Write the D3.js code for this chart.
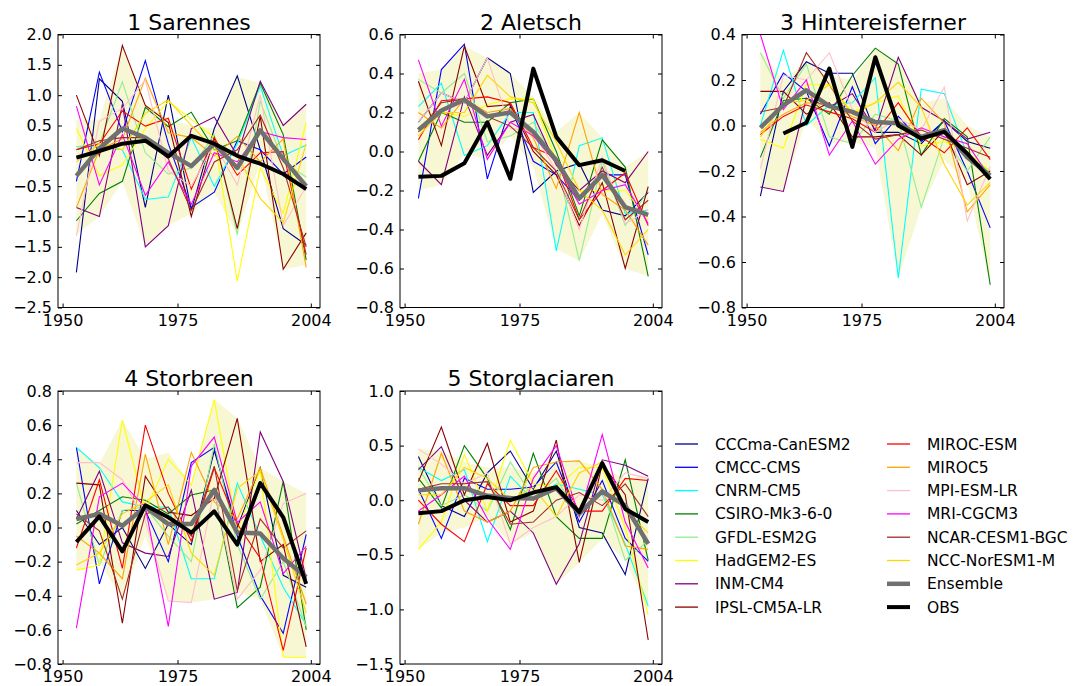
<!DOCTYPE html>
<html>
<head>
<meta charset="utf-8">
<script src="https://cdn.jsdelivr.net/npm/d3@7"></script>
<style>
  body { margin: 0; background: #fff; }
  svg { font-family: "DejaVu Sans", sans-serif; }
</style>
</head>
<body>
<svg id="chart" width="1084" height="686"></svg>
<script>
// Five-year mean anomalies per glacier: 14 GCMs, their ensemble, the spread band and OBS.

var years = [1953, 1958, 1963, 1968, 1973, 1978, 1983, 1988, 1993, 1998, 2003];
var xTicks = [1950, 1975, 2004];

var modelNames = ["CCCma-CanESM2", "CMCC-CMS", "CNRM-CM5", "CSIRO-Mk3-6-0", "GFDL-ESM2G",
    "HadGEM2-ES", "INM-CM4", "IPSL-CM5A-LR", "MIROC-ESM", "MIROC5", "MPI-ESM-LR",
    "MRI-CGCM3", "NCAR-CESM1-BGC", "NCC-NorESM1-M"];
var modelColors = ["#00008b", "#0000ff", "#00ffff", "#008000", "#90ee90", "#ffff00", "#800080",
    "#8b0000", "#ff0000", "#ffa500", "#ffc0cb", "#ff00ff", "#a52a2a", "#ffd700"];

// 1 Sarennes
var sarennesModels = [
    [-1.92, 1.27, 0.9, -0.85, 1.0, -0.9, 0.45, 1.32, 0.1, -1.2, -1.47],
    [-0.42, 1.38, 0.4, 1.57, 0.2, -0.85, -0.6, 0.25, 0.1, -0.3, -0.02],
    [0.15, 0.15, 0.1, -0.72, -0.68, 0.3, -0.5, 0.2, 1.15, 0.0, 0.18],
    [-1.07, -0.62, -0.42, 0.8, 0.48, 0.72, 0.1, 0.25, 1.2, 0.35, -1.72],
    [0.15, 0.2, 1.22, 0.05, -0.3, -0.2, 0.35, -1.3, 0.9, -0.1, -0.35],
    [0.45, -0.33, -0.15, 0.45, 0.9, 0.6, 0.3, -2.07, -0.2, -0.95, 0.55],
    [-0.85, -1.0, 0.85, -1.5, -1.15, 0.45, 0.64, 0.0, 1.23, 0.5, 0.85],
    [1.0, 0.0, 1.82, 0.83, 0.55, -1.0, 0.3, -1.2, 0.65, -1.87, -1.27],
    [0.1, 0.2, 0.74, 0.49, 0.62, -0.55, 0.3, -0.32, 0.05, 0.07, -1.63],
    [-0.85, 0.1, 0.28, 1.28, 0.38, 0.3, 0.0, 0.32, -0.1, 0.28, -1.84],
    [-1.32, 0.57, 0.78, 1.25, -0.25, -0.5, 0.2, -0.48, 1.0, -1.15, -0.5],
    [0.82, -0.48, 0.35, -0.65, -0.1, -0.8, 0.05, -0.1, 0.4, 0.3, 0.27],
    [0.1, 0.25, 0.3, 0.3, -0.05, -0.9, -0.1, 0.1, 0.67, -0.2, -1.5],
    [-0.1, 0.2, 0.1, 0.7, 0.92, 0.5, 0.1, 0.0, -0.7, -1.1, 0.2]
];
var sarennesEns = [-0.33, 0.12, 0.45, 0.3, 0.05, -0.17, 0.2, -0.2, 0.42, -0.05, -0.5];
var sarennesObs = [-0.03, 0.08, 0.2, 0.25, -0.01, 0.33, 0.2, 0.0, -0.13, -0.3, -0.55];
var sarennesUpper = [0.6, 0.6, 1.82, 0.85, 0.6, 0.5, 0.45, 1.3, 1.2, 0.5, 0.85];
var sarennesLower = [-1.3, -1.0, -0.42, -1.5, -1.15, -0.95, -0.6, -1.3, -0.1, -1.87, -1.8];

// 2 Aletsch
var aletschModels = [
    [0.15, 0.3, 0.25, 0.48, 0.4, -0.21, -0.1, -0.06, -0.3, -0.33, -0.21],
    [-0.24, 0.42, 0.55, -0.14, 0.23, -0.05, -0.12, -0.25, -0.12, -0.12, -0.53],
    [0.23, 0.35, -0.02, 0.03, 0.2, 0.2, -0.51, 0.03, 0.07, -0.32, -0.3],
    [-0.05, 0.2, 0.15, 0.15, 0.25, 0.27, 0.0, -0.33, 0.06, -0.08, -0.64],
    [0.37, 0.3, 0.4, 0.05, 0.08, 0.15, -0.05, -0.56, -0.05, -0.38, -0.2],
    [0.1, 0.2, 0.18, 0.24, 0.27, 0.27, -0.05, -0.2, -0.2, -0.2, -0.35],
    [-0.05, -0.17, 0.28, -0.02, 0.15, 0.19, -0.07, -0.2, -0.1, -0.16, 0.0],
    [0.36, 0.03, 0.54, 0.23, 0.24, 0.0, -0.12, -0.38, -0.16, -0.6, -0.18],
    [0.06, 0.26, 0.27, 0.28, 0.25, 0.02, -0.03, -0.35, -0.2, -0.11, -0.38],
    [0.2, 0.12, 0.27, 0.2, 0.22, 0.07, -0.19, 0.2, -0.22, -0.3, -0.48],
    [0.15, 0.3, 0.25, 0.48, 0.12, 0.1, -0.1, -0.4, -0.03, -0.37, -0.3],
    [0.47, 0.13, 0.37, -0.04, 0.15, 0.08, -0.06, -0.27, -0.2, -0.17, -0.37],
    [0.1, 0.25, 0.27, 0.18, 0.13, 0.02, -0.1, -0.35, -0.08, -0.35, -0.25],
    [0.08, 0.2, 0.2, 0.39, 0.28, 0.25, 0.05, -0.2, -0.3, -0.53, -0.4]
];
var aletschEns = [0.11, 0.21, 0.265, 0.18, 0.2, 0.1, -0.045, -0.24, -0.12, -0.285, -0.325];
var aletschObs = [-0.13, -0.125, -0.06, 0.15, -0.14, 0.425, 0.075, -0.07, -0.045, -0.1, null];
var aletschUpper = [0.4, 0.42, 0.54, 0.48, 0.4, 0.28, 0.1, 0.2, 0.07, -0.08, 0.0];
var aletschLower = [-0.2, -0.17, -0.01, -0.04, 0.08, -0.08, -0.5, -0.56, -0.32, -0.6, -0.64];

// 3 Hintereisferner
var hefModels = [
    [-0.31, 0.15, 0.28, 0.23, 0.23, -0.03, -0.03, -0.08, 0.02, -0.07, -0.1],
    [0.05, 0.23, 0.15, -0.09, 0.17, -0.08, 0.04, -0.07, 0.02, -0.2, -0.45],
    [0.0, 0.33, 0.0, 0.09, 0.1, 0.21, -0.67, 0.16, 0.14, -0.13, -0.2],
    [-0.14, 0.11, 0.12, 0.05, 0.22, 0.34, 0.27, -0.13, 0.03, -0.05, -0.7],
    [0.32, 0.12, 0.27, -0.05, -0.08, 0.05, 0.02, -0.36, -0.05, -0.2, -0.05],
    [-0.06, -0.1, 0.18, 0.18, 0.06, 0.1, 0.13, -0.09, -0.07, -0.12, -0.2],
    [-0.27, -0.29, 0.12, 0.08, 0.14, -0.02, 0.3, 0.08, 0.02, -0.06, -0.03],
    [0.15, 0.15, 0.05, 0.1, -0.05, -0.05, -0.04, -0.13, -0.02, -0.26, -0.2],
    [-0.04, 0.04, 0.09, 0.06, 0.03, -0.03, 0.1, -0.05, -0.12, -0.01, -0.15],
    [-0.03, 0.05, 0.1, 0.09, 0.04, 0.0, -0.11, 0.12, 0.01, -0.38, -0.26],
    [-0.19, 0.22, 0.2, 0.32, 0.07, -0.03, 0.03, -0.02, 0.17, -0.42, -0.18],
    [0.4, 0.07, 0.2, -0.13, 0.02, -0.17, -0.06, -0.01, -0.05, -0.08, -0.23],
    [0.06, 0.08, 0.32, 0.18, 0.02, -0.06, -0.04, -0.02, -0.06, -0.1, -0.14],
    [-0.05, 0.1, 0.11, 0.18, 0.05, 0.1, 0.19, 0.08, -0.17, -0.35, -0.25]
];
var hefEns = [-0.01, 0.09, 0.155, 0.085, 0.06, 0.015, 0.01, -0.05, -0.02, -0.14, -0.22];
var hefObs = [null, -0.035, 0.012, 0.25, -0.094, 0.3, 0.0, -0.057, -0.028, -0.123, -0.236];
var hefUpper = [0.33, 0.2, 0.28, 0.22, 0.2, 0.34, 0.28, 0.1, 0.12, 0.0, -0.05];
var hefLower = [-0.27, -0.29, 0.03, -0.08, -0.07, -0.1, -0.67, -0.36, -0.15, -0.25, -0.7];

// 4 Storbreen
var storbreenModels = [
    [0.1, -0.1, 0.0, -0.24, 0.02, -0.1, 0.45, 0.0, 0.35, -0.28, -0.35],
    [0.47, -0.33, 0.1, 0.1, -0.2, 0.38, 0.47, -0.05, -0.4, -0.62, -0.04],
    [0.47, 0.35, 0.15, 0.12, 0.12, -0.3, -0.3, 0.26, -0.05, -0.35, -0.57],
    [0.02, 0.1, 0.18, 0.16, 0.08, 0.19, 0.22, -0.47, -0.35, 0.27, -0.6],
    [0.26, -0.22, 0.1, 0.12, -0.05, -0.2, 0.49, -0.1, -0.42, -0.2, -0.58],
    [-0.25, -0.22, 0.63, 0.1, 0.4, 0.25, 0.75, -0.02, 0.34, -0.76, -0.76],
    [0.05, 0.33, -0.09, -0.15, -0.17, 0.22, -0.42, -0.38, 0.56, 0.27, -0.3],
    [0.26, 0.25, -0.56, 0.3, 0.09, 0.07, 0.17, 0.64, -0.2, -0.1, -0.7],
    [-0.12, 0.28, -0.24, 0.6, 0.2, -0.08, 0.35, 0.02, -0.18, -0.72, -0.12],
    [-0.05, -0.15, -0.3, 0.43, -0.1, 0.44, 0.15, 0.05, 0.35, -0.05, -0.45],
    [0.38, 0.38, 0.28, 0.04, -0.43, -0.44, 0.22, -0.42, -0.25, 0.14, 0.2],
    [-0.59, 0.18, 0.26, 0.12, -0.58, 0.36, 0.53, 0.03, 0.15, -0.27, -0.11],
    [0.08, -0.02, -0.42, 0.08, 0.12, -0.05, 0.36, -0.37, 0.05, -0.12, -0.02],
    [-0.22, -0.15, 0.08, 0.15, 0.25, -0.15, -0.28, 0.23, 0.33, -0.07, -0.5]
];
var storbreenEns = [0.05, 0.08, 0.01, 0.12, 0.02, 0.02, 0.22, -0.03, -0.035, -0.18, -0.29];
var storbreenObs = [-0.085, 0.065, -0.14, 0.13, 0.06, -0.03, 0.095, -0.1, 0.26, 0.06, -0.33];
var storbreenUpper = [0.47, 0.37, 0.63, 0.4, 0.44, 0.25, 0.75, 0.64, 0.35, 0.27, 0.2];
var storbreenLower = [-0.25, -0.2, -0.42, -0.05, -0.42, -0.44, -0.42, -0.38, -0.42, -0.76, -0.76];

// 5 Storglaciaren
var storglacModels = [
    [0.4, -0.05, -0.15, 0.25, 0.45, 0.1, 0.45, -0.25, -0.3, -0.68, 0.2],
    [0.1, -0.35, 0.2, 0.1, 0.1, 0.12, 0.35, -0.2, 0.18, -0.35, -0.56],
    [0.3, 0.18, 0.28, -0.38, 0.22, 0.0, 0.15, 0.1, 0.05, -0.4, -0.97],
    [0.2, -0.07, 0.5, 0.2, -0.27, 0.43, -0.15, -0.35, -0.35, 0.37, -0.55],
    [0.3, -0.05, 0.05, -0.1, 0.35, 0.02, 0.2, -0.15, 0.1, -0.55, -0.37],
    [-0.45, -0.2, 0.42, -0.1, 0.55, 0.15, 0.12, 0.3, 0.3, -0.25, -1.05],
    [0.28, 0.49, 0.0, -0.2, -0.1, -0.3, -0.77, -0.4, 0.37, 0.32, 0.22],
    [0.17, 0.67, 0.05, 0.52, -0.2, -0.1, 0.55, -0.57, 0.33, 0.05, -1.28],
    [0.0, -0.22, -0.38, 0.15, -0.05, -0.05, 0.27, -0.1, -0.1, 0.2, 0.18],
    [-0.22, 0.43, -0.1, -0.2, -0.1, 0.3, 0.35, 0.36, 0.1, -0.42, -0.45],
    [0.47, 0.33, 0.15, 0.25, -0.4, -0.25, -0.15, 0.05, 0.0, 0.25, 0.2],
    [-0.1, 0.05, 0.22, -0.17, -0.45, 0.2, 0.5, -0.15, 0.6, -0.2, -0.62],
    [0.1, 0.15, 0.15, 0.17, -0.22, -0.2, 0.0, 0.07, -0.05, 0.15, -0.15],
    [0.05, 0.05, 0.3, 0.2, 0.0, 0.12, -0.15, 0.25, 0.35, -0.1, -0.3]
];
var storglacEns = [0.09, 0.11, 0.11, 0.04, 0.02, 0.015, 0.11, -0.12, 0.08, -0.05, -0.4];
var storglacObs = [-0.12, -0.1, 0.0, 0.03, 0.0, 0.07, 0.12, -0.11, 0.34, -0.08, -0.2];
var storglacUpper = [0.47, 0.45, 0.35, 0.3, 0.3, 0.25, 0.36, 0.36, 0.3, 0.2, 0.22];
var storglacLower = [-0.45, -0.3, -0.25, -0.15, -0.4, -0.3, -0.77, -0.57, -0.35, -0.55, -1.0];

// y tick values of each panel
var sarennesTicks = [-2.5, -2.0, -1.5, -1.0, -0.5, 0.0, 0.5, 1.0, 1.5, 2.0];
var aletschTicks = [-0.8, -0.6, -0.4, -0.2, 0.0, 0.2, 0.4, 0.6];
var hefTicks = [-0.8, -0.6, -0.4, -0.2, 0.0, 0.2, 0.4];
var storbreenTicks = [-0.8, -0.6, -0.4, -0.2, 0.0, 0.2, 0.4, 0.6, 0.8];
var storglacTicks = [-1.5, -1.0, -0.5, 0.0, 0.5, 1.0];

var panels = [
    { title: "1 Sarennes", models: sarennesModels, ens: sarennesEns, obs: sarennesObs,
      upper: sarennesUpper, lower: sarennesLower, ticks: sarennesTicks, left: 58, top: 34.5 },
    { title: "2 Aletsch", models: aletschModels, ens: aletschEns, obs: aletschObs,
      upper: aletschUpper, lower: aletschLower, ticks: aletschTicks, left: 400, top: 34.5 },
    { title: "3 Hintereisferner", models: hefModels, ens: hefEns, obs: hefObs,
      upper: hefUpper, lower: hefLower, ticks: hefTicks, left: 742, top: 34.5 },
    { title: "4 Storbreen", models: storbreenModels, ens: storbreenEns, obs: storbreenObs,
      upper: storbreenUpper, lower: storbreenLower, ticks: storbreenTicks, left: 58, top: 391 },
    { title: "5 Storglaciaren", models: storglacModels, ens: storglacEns, obs: storglacObs,
      upper: storglacUpper, lower: storglacLower, ticks: storglacTicks, left: 400, top: 391 }
];

var PLOT_W = 262, PLOT_H = 273;
var TICK_LEN = 4;
var svg = d3.select("#chart");

function fmt(v) {
    return d3.format(".1f")(v).replace("-", "\u2212");
}

function drawPanel(p, idx) {
    var x = d3.scaleLinear().domain([1949, 2006]).range([0, PLOT_W]);
    var ticks = p.ticks;
    var y = d3.scaleLinear().domain([ticks[0], ticks[ticks.length - 1]]).range([PLOT_H, 0]);

    var g = svg.append("g").attr("transform", "translate(" + p.left + "," + p.top + ")");

    g.append("clipPath").attr("id", "clip" + idx)
        .append("rect").attr("width", PLOT_W).attr("height", PLOT_H);
    var plot = g.append("g").attr("clip-path", "url(#clip" + idx + ")");

    // Spread band sits underneath everything else.
    var area = d3.area()
        .x(function (d, i) { return x(years[i]); })
        .y0(function (d, i) { return y(p.lower[i]); })
        .y1(function (d, i) { return y(p.upper[i]); });
    plot.append("path").datum(years)
        .attr("d", area)
        .attr("fill", "#f7f7d3");

    var line = d3.line()
        .defined(function (d) { return d !== null; })
        .x(function (d, i) { return x(years[i]); })
        .y(function (d) { return y(d); });

    p.models.forEach(function (vals, m) {
        plot.append("path").datum(vals)
            .attr("d", line)
            .attr("fill", "none")
            .attr("stroke", modelColors[m])
            .attr("stroke-width", 1.1);
    });

    plot.append("path").datum(p.ens)
        .attr("d", line)
        .attr("fill", "none")
        .attr("stroke", "#707070")
        .attr("stroke-width", 4.5)
        .attr("stroke-linejoin", "round");

    plot.append("path").datum(p.obs)
        .attr("d", line)
        .attr("fill", "none")
        .attr("stroke", "#000")
        .attr("stroke-width", 4)
        .attr("stroke-linejoin", "round");

    // Inward ticks on all four sides, matplotlib classic style.
    g.append("g").attr("transform", "translate(0," + PLOT_H + ")")
        .call(d3.axisBottom(x).tickValues(xTicks).tickFormat(d3.format("d")).tickSizeInner(-TICK_LEN).tickSizeOuter(0).tickPadding(7));
    g.append("g")
        .call(d3.axisTop(x).tickValues(xTicks).tickFormat("").tickSizeInner(-TICK_LEN).tickSizeOuter(0));
    g.append("g")
        .call(d3.axisLeft(y).tickValues(ticks).tickFormat(fmt).tickSizeInner(-TICK_LEN).tickSizeOuter(0).tickPadding(6));
    g.append("g").attr("transform", "translate(" + PLOT_W + ",0)")
        .call(d3.axisRight(y).tickValues(ticks).tickFormat("").tickSizeInner(-TICK_LEN).tickSizeOuter(0));

    g.selectAll(".domain").remove();
    g.selectAll(".tick line").attr("stroke", "#000");
    g.selectAll(".tick text")
        .attr("fill", "#000")
        .style("font-size", "16px")
        .style("font-family", "'DejaVu Sans', sans-serif");

    g.append("rect")
        .attr("width", PLOT_W).attr("height", PLOT_H)
        .attr("fill", "none").attr("stroke", "#000").attr("stroke-width", 1);

    g.append("text")
        .attr("x", PLOT_W / 2).attr("y", -5)
        .attr("text-anchor", "middle")
        .style("font-size", "22px")
        .text(p.title);
}

panels.forEach(drawPanel);

// Legend: two columns, models then Ensemble and OBS.
var legendItems = modelNames.map(function (n, i) {
    return { name: n, color: modelColors[i], width: 1.3 };
});
legendItems.push({ name: "Ensemble", color: "#707070", width: 4.5 });
legendItems.push({ name: "OBS", color: "#000", width: 4 });

var legend = svg.append("g").attr("transform", "translate(675,444)");
legendItems.forEach(function (item, i) {
    var col = Math.floor(i / 8), row = i % 8;
    var lg = legend.append("g")
        .attr("transform", "translate(" + (col * 212) + "," + (row * 23.3) + ")");
    lg.append("line")
        .attr("x1", 0).attr("x2", 23)
        .attr("stroke", item.color)
        .attr("stroke-width", item.width);
    lg.append("text")
        .attr("x", 40).attr("dy", "0.36em")
        .style("font-size", "15.5px")
        .text(item.name);
});
</script>
</body>
</html>
